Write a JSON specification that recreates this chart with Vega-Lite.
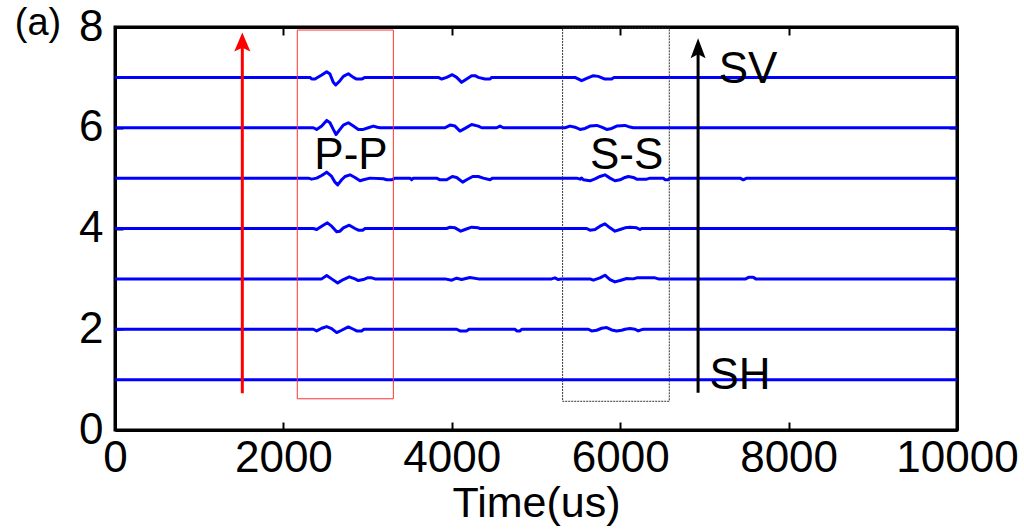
{
  "$schema": "https://vega.github.io/schema/vega-lite/v6.json",
  "width": 842,
  "height": 403,
  "autosize": {"type": "none"},
  "padding": {"left": 115, "top": 27, "right": 67, "bottom": 99},
  "background": "white",
  "config": {
    "view": {"stroke": "black", "strokeWidth": 3},
    "axis": {
      "grid": false,
      "domain": true,
      "domainColor": "black",
      "domainWidth": 3,
      "tickColor": "black",
      "tickWidth": 2,
      "tickSize": -8,
      "labelFont": "Liberation Sans",
      "labelFontSize": 44,
      "labelColor": "black",
      "labelFlush": false,
      "labelOverlap": false,
      "titleFont": "Liberation Sans",
      "titleFontSize": 43,
      "titleFontWeight": "normal",
      "titleColor": "black"
    }
  },
  "datasets": {
    "traces": [
      {"k":7,"t":0,"v":7},{"k":7,"t":2316,"v":7},{"k":7,"t":2336,"v":6.967},{"k":7,"t":2375,"v":6.967},{"k":7,"t":2455,"v":7.046},{"k":7,"t":2514,"v":7.113},{"k":7,"t":2553,"v":7.066},{"k":7,"t":2593,"v":6.901},{"k":7,"t":2621,"v":6.848},{"k":7,"t":2672,"v":6.934},{"k":7,"t":2712,"v":7.02},{"k":7,"t":2771,"v":7.073},{"k":7,"t":2831,"v":7},{"k":7,"t":2870,"v":6.967},{"k":7,"t":2929,"v":6.967},{"k":7,"t":2969,"v":7},{"k":7,"t":3840,"v":7},{"k":7,"t":3880,"v":6.967},{"k":7,"t":3939,"v":7},{"k":7,"t":4006,"v":7.053},{"k":7,"t":4058,"v":7},{"k":7,"t":4117,"v":6.901},{"k":7,"t":4177,"v":6.967},{"k":7,"t":4236,"v":7.033},{"k":7,"t":4276,"v":7.033},{"k":7,"t":4315,"v":7},{"k":7,"t":4394,"v":6.967},{"k":7,"t":4454,"v":6.967},{"k":7,"t":4474,"v":7},{"k":7,"t":5463,"v":7},{"k":7,"t":5542,"v":6.934},{"k":7,"t":5602,"v":6.98},{"k":7,"t":5681,"v":7.033},{"k":7,"t":5740,"v":7.02},{"k":7,"t":5819,"v":6.967},{"k":7,"t":5899,"v":6.967},{"k":7,"t":5927,"v":7},{"k":7,"t":10000,"v":7},
      {"k":6,"t":0,"v":6},{"k":6,"t":2355,"v":6},{"k":6,"t":2395,"v":5.967},{"k":6,"t":2455,"v":6.033},{"k":6,"t":2514,"v":6.146},{"k":6,"t":2553,"v":6.099},{"k":6,"t":2593,"v":5.967},{"k":6,"t":2625,"v":5.867},{"k":6,"t":2672,"v":5.967},{"k":6,"t":2712,"v":6.053},{"k":6,"t":2771,"v":6.099},{"k":6,"t":2831,"v":6.033},{"k":6,"t":2890,"v":5.967},{"k":6,"t":2949,"v":5.967},{"k":6,"t":3009,"v":6},{"k":6,"t":3068,"v":6.033},{"k":6,"t":3116,"v":6.01},{"k":6,"t":3147,"v":6},{"k":6,"t":3919,"v":6},{"k":6,"t":3979,"v":6.053},{"k":6,"t":4038,"v":6.033},{"k":6,"t":4097,"v":5.934},{"k":6,"t":4157,"v":5.987},{"k":6,"t":4236,"v":6.066},{"k":6,"t":4315,"v":6.033},{"k":6,"t":4355,"v":6},{"k":6,"t":4533,"v":6},{"k":6,"t":4572,"v":6.033},{"k":6,"t":4612,"v":6},{"k":6,"t":5344,"v":6},{"k":6,"t":5404,"v":6.033},{"k":6,"t":5463,"v":6.01},{"k":6,"t":5523,"v":5.967},{"k":6,"t":5582,"v":5.987},{"k":6,"t":5641,"v":6.033},{"k":6,"t":5721,"v":6.046},{"k":6,"t":5780,"v":6.013},{"k":6,"t":5840,"v":5.967},{"k":6,"t":5899,"v":5.987},{"k":6,"t":5958,"v":6.033},{"k":6,"t":6057,"v":6.046},{"k":6,"t":6116,"v":6.013},{"k":6,"t":6156,"v":6},{"k":6,"t":10000,"v":6},
      {"k":5,"t":0,"v":5},{"k":5,"t":2296,"v":5},{"k":5,"t":2336,"v":4.98},{"k":5,"t":2395,"v":5},{"k":5,"t":2455,"v":5.053},{"k":5,"t":2514,"v":5.119},{"k":5,"t":2573,"v":5.033},{"k":5,"t":2613,"v":4.92},{"k":5,"t":2645,"v":4.867},{"k":5,"t":2692,"v":4.967},{"k":5,"t":2732,"v":5.033},{"k":5,"t":2791,"v":5.066},{"k":5,"t":2850,"v":5.013},{"k":5,"t":2910,"v":4.947},{"k":5,"t":2949,"v":4.967},{"k":5,"t":3029,"v":5},{"k":5,"t":3187,"v":4.987},{"k":5,"t":3227,"v":4.967},{"k":5,"t":3286,"v":4.967},{"k":5,"t":3325,"v":5},{"k":5,"t":3504,"v":5},{"k":5,"t":3523,"v":4.967},{"k":5,"t":3543,"v":5},{"k":5,"t":3820,"v":5},{"k":5,"t":3860,"v":4.967},{"k":5,"t":3939,"v":4.967},{"k":5,"t":4006,"v":5.033},{"k":5,"t":4058,"v":5.013},{"k":5,"t":4129,"v":4.92},{"k":5,"t":4177,"v":4.967},{"k":5,"t":4248,"v":5.033},{"k":5,"t":4315,"v":5.033},{"k":5,"t":4374,"v":5},{"k":5,"t":4454,"v":4.967},{"k":5,"t":4485,"v":5},{"k":5,"t":5483,"v":5},{"k":5,"t":5523,"v":4.98},{"k":5,"t":5542,"v":5},{"k":5,"t":5562,"v":4.967},{"k":5,"t":5641,"v":4.947},{"k":5,"t":5701,"v":4.987},{"k":5,"t":5760,"v":5.033},{"k":5,"t":5819,"v":5.066},{"k":5,"t":5879,"v":5},{"k":5,"t":5938,"v":4.947},{"k":5,"t":5998,"v":4.967},{"k":5,"t":6057,"v":5.013},{"k":5,"t":6097,"v":5.033},{"k":5,"t":6156,"v":5.013},{"k":5,"t":6196,"v":4.98},{"k":5,"t":6315,"v":4.98},{"k":5,"t":6354,"v":5},{"k":5,"t":6512,"v":5},{"k":5,"t":6532,"v":4.967},{"k":5,"t":6572,"v":4.967},{"k":5,"t":6591,"v":5},{"k":5,"t":7423,"v":5},{"k":5,"t":7462,"v":4.967},{"k":5,"t":7502,"v":5},{"k":5,"t":10000,"v":5},
      {"k":4,"t":0,"v":4},{"k":4,"t":2355,"v":4},{"k":4,"t":2395,"v":3.98},{"k":4,"t":2455,"v":4.046},{"k":4,"t":2522,"v":4.113},{"k":4,"t":2573,"v":4.046},{"k":4,"t":2633,"v":3.934},{"k":4,"t":2672,"v":3.947},{"k":4,"t":2712,"v":4.013},{"k":4,"t":2783,"v":4.066},{"k":4,"t":2850,"v":4},{"k":4,"t":2890,"v":3.967},{"k":4,"t":2941,"v":3.967},{"k":4,"t":2969,"v":4},{"k":4,"t":3939,"v":4},{"k":4,"t":3979,"v":4.026},{"k":4,"t":4038,"v":4.013},{"k":4,"t":4106,"v":3.947},{"k":4,"t":4157,"v":3.98},{"k":4,"t":4236,"v":4.026},{"k":4,"t":4315,"v":4.013},{"k":4,"t":4335,"v":4},{"k":4,"t":5602,"v":4},{"k":4,"t":5641,"v":3.967},{"k":4,"t":5701,"v":3.98},{"k":4,"t":5760,"v":4.046},{"k":4,"t":5819,"v":4.093},{"k":4,"t":5879,"v":4.013},{"k":4,"t":5938,"v":3.947},{"k":4,"t":5998,"v":3.98},{"k":4,"t":6057,"v":4.013},{"k":4,"t":6116,"v":4.026},{"k":4,"t":6196,"v":4.013},{"k":4,"t":6235,"v":3.98},{"k":4,"t":6255,"v":4},{"k":4,"t":10000,"v":4},
      {"k":3,"t":0,"v":3},{"k":3,"t":2455,"v":3},{"k":3,"t":2514,"v":3.066},{"k":3,"t":2573,"v":3},{"k":3,"t":2645,"v":2.92},{"k":3,"t":2712,"v":2.987},{"k":3,"t":2783,"v":3.04},{"k":3,"t":2850,"v":3},{"k":3,"t":2890,"v":2.967},{"k":3,"t":2949,"v":2.987},{"k":3,"t":2997,"v":3.02},{"k":3,"t":3049,"v":3.02},{"k":3,"t":3088,"v":3},{"k":3,"t":3919,"v":3},{"k":3,"t":3999,"v":2.974},{"k":3,"t":4058,"v":3.013},{"k":3,"t":4117,"v":2.987},{"k":3,"t":4216,"v":3.026},{"k":3,"t":4315,"v":3},{"k":3,"t":5186,"v":3},{"k":3,"t":5225,"v":3.02},{"k":3,"t":5265,"v":2.987},{"k":3,"t":5305,"v":3},{"k":3,"t":5641,"v":3},{"k":3,"t":5681,"v":2.974},{"k":3,"t":5760,"v":3.02},{"k":3,"t":5819,"v":3.073},{"k":3,"t":5879,"v":2.987},{"k":3,"t":5938,"v":2.94},{"k":3,"t":5998,"v":2.967},{"k":3,"t":6077,"v":3.007},{"k":3,"t":6156,"v":3},{"k":3,"t":6196,"v":3.02},{"k":3,"t":6413,"v":3.02},{"k":3,"t":6453,"v":3},{"k":3,"t":7490,"v":3},{"k":3,"t":7530,"v":3.033},{"k":3,"t":7580,"v":3.033},{"k":3,"t":7610,"v":3},{"k":3,"t":10000,"v":3},
      {"k":2,"t":0,"v":2},{"k":2,"t":2355,"v":2},{"k":2,"t":2395,"v":1.967},{"k":2,"t":2455,"v":2.02},{"k":2,"t":2514,"v":2.053},{"k":2,"t":2573,"v":2.013},{"k":2,"t":2633,"v":1.934},{"k":2,"t":2692,"v":1.98},{"k":2,"t":2771,"v":2.046},{"k":2,"t":2831,"v":2},{"k":2,"t":2870,"v":1.967},{"k":2,"t":2929,"v":1.967},{"k":2,"t":2957,"v":2},{"k":2,"t":4058,"v":2},{"k":2,"t":4097,"v":1.967},{"k":2,"t":4177,"v":1.967},{"k":2,"t":4204,"v":2},{"k":2,"t":4751,"v":2},{"k":2,"t":4771,"v":1.967},{"k":2,"t":4810,"v":1.967},{"k":2,"t":4830,"v":2},{"k":2,"t":5622,"v":2},{"k":2,"t":5661,"v":1.967},{"k":2,"t":5721,"v":1.98},{"k":2,"t":5780,"v":2.02},{"k":2,"t":5840,"v":2.033},{"k":2,"t":5899,"v":1.987},{"k":2,"t":5958,"v":1.967},{"k":2,"t":6018,"v":1.98},{"k":2,"t":6057,"v":2},{"k":2,"t":6116,"v":2.013},{"k":2,"t":6176,"v":2},{"k":2,"t":6215,"v":1.967},{"k":2,"t":6247,"v":1.987},{"k":2,"t":6275,"v":2},{"k":2,"t":10000,"v":2},
      {"k":1,"t":0,"v":1},{"k":1,"t":10000,"v":1}
    ],
    "boxes": [
      {"name":"P-P","x":2165,"x2":3306,"y":0.62,"y2":7.94},
      {"name":"S-S","x":5316,"x2":6583,"y":0.57,"y2":7.98}
    ],
    "arrows": [
      {"name":"red","x":1512,"y":0.73,"y2":7.6,"head":7.70},
      {"name":"black","x":6925,"y":0.74,"y2":7.5,"head":7.58}
    ],
    "labels": [
      {"t":2803,"v":5.19,"text":"P-P"},
      {"t":6077,"v":5.19,"text":"S-S"},
      {"t":7518,"v":6.88,"text":"SV"},
      {"t":7423,"v":0.82,"text":"SH"}
    ],
    "panel": [
      {"t":-914,"v":7.84,"text":"(a)"}
    ]
  },
  "layer": [
    {
      "data": {"name": "traces"},
      "mark": {"type": "line", "color": "#0000ff", "strokeWidth": 3, "strokeJoin": "round"},
      "encoding": {
        "x": {"field": "t", "type": "quantitative", "scale": {"domain": [0, 10000], "nice": false, "zero": false},
              "axis": {"orient": "bottom", "values": [0, 2000, 4000, 6000, 8000, 10000], "format": "d", "labelPadding": 14, "title": "Time(us)", "titlePadding": 2}},
        "y": {"field": "v", "type": "quantitative", "scale": {"domain": [0, 8], "nice": false, "zero": false},
              "axis": {"orient": "left", "values": [0, 2, 4, 6, 8], "format": "d", "labelPadding": 20, "title": null}},
        "detail": {"field": "k", "type": "nominal"}
      }
    },
    {
      "data": {"name": "boxes"},
      "transform": [{"filter": "datum.name == 'P-P'"}],
      "mark": {"type": "rect", "fillOpacity": 0, "stroke": "#ff3333", "strokeWidth": 1},
      "encoding": {
        "x": {"field": "x", "type": "quantitative", "axis": {"orient": "top", "values": [0, 2000, 4000, 6000, 8000, 10000], "labels": false, "title": null}},
        "x2": {"field": "x2"},
        "y": {"field": "y", "type": "quantitative", "axis": {"orient": "right", "values": [0, 2, 4, 6, 8], "labels": false, "title": null}},
        "y2": {"field": "y2"}
      }
    },
    {
      "data": {"name": "boxes"},
      "transform": [{"filter": "datum.name == 'S-S'"}],
      "mark": {"type": "rect", "fillOpacity": 0, "stroke": "#333333", "strokeWidth": 1, "strokeDash": [2, 1]},
      "encoding": {
        "x": {"field": "x", "type": "quantitative", "axis": null},
        "x2": {"field": "x2"},
        "y": {"field": "y", "type": "quantitative", "axis": null},
        "y2": {"field": "y2"}
      }
    },
    {
      "data": {"name": "arrows"},
      "transform": [{"filter": "datum.name == 'red'"}],
      "mark": {"type": "rule", "color": "#ff0000", "strokeWidth": 3},
      "encoding": {
        "x": {"field": "x", "type": "quantitative", "axis": null},
        "y": {"field": "y", "type": "quantitative", "axis": null},
        "y2": {"field": "y2"}
      }
    },
    {
      "data": {"name": "arrows"},
      "transform": [{"filter": "datum.name == 'red'"}],
      "mark": {"type": "point", "filled": true, "color": "#ff0000", "opacity": 1, "size": 361, "shape": "M0,-1L0.85,1L0,0.6L-0.85,1Z"},
      "encoding": {
        "x": {"field": "x", "type": "quantitative", "axis": null},
        "y": {"field": "head", "type": "quantitative", "axis": null}
      }
    },
    {
      "data": {"name": "arrows"},
      "transform": [{"filter": "datum.name == 'black'"}],
      "mark": {"type": "rule", "color": "#000000", "strokeWidth": 3},
      "encoding": {
        "x": {"field": "x", "type": "quantitative", "axis": null},
        "y": {"field": "y", "type": "quantitative", "axis": null},
        "y2": {"field": "y2"}
      }
    },
    {
      "data": {"name": "arrows"},
      "transform": [{"filter": "datum.name == 'black'"}],
      "mark": {"type": "point", "filled": true, "color": "#000000", "opacity": 1, "size": 400, "shape": "M0,-1L0.75,1L0,0.6L-0.75,1Z"},
      "encoding": {
        "x": {"field": "x", "type": "quantitative", "axis": null},
        "y": {"field": "head", "type": "quantitative", "axis": null}
      }
    },
    {
      "data": {"name": "labels"},
      "mark": {"type": "text", "font": "Liberation Sans", "fontSize": 44, "color": "black", "align": "center", "baseline": "alphabetic"},
      "encoding": {
        "x": {"field": "t", "type": "quantitative", "axis": null},
        "y": {"field": "v", "type": "quantitative", "axis": null},
        "text": {"field": "text"}
      }
    },
    {
      "data": {"name": "panel"},
      "mark": {"type": "text", "font": "Liberation Sans", "fontSize": 38, "color": "black", "align": "center", "baseline": "alphabetic"},
      "encoding": {
        "x": {"field": "t", "type": "quantitative", "axis": null},
        "y": {"field": "v", "type": "quantitative", "axis": null},
        "text": {"field": "text"}
      }
    }
  ],
  "resolve": {"axis": {"x": "independent", "y": "independent"}}
}
